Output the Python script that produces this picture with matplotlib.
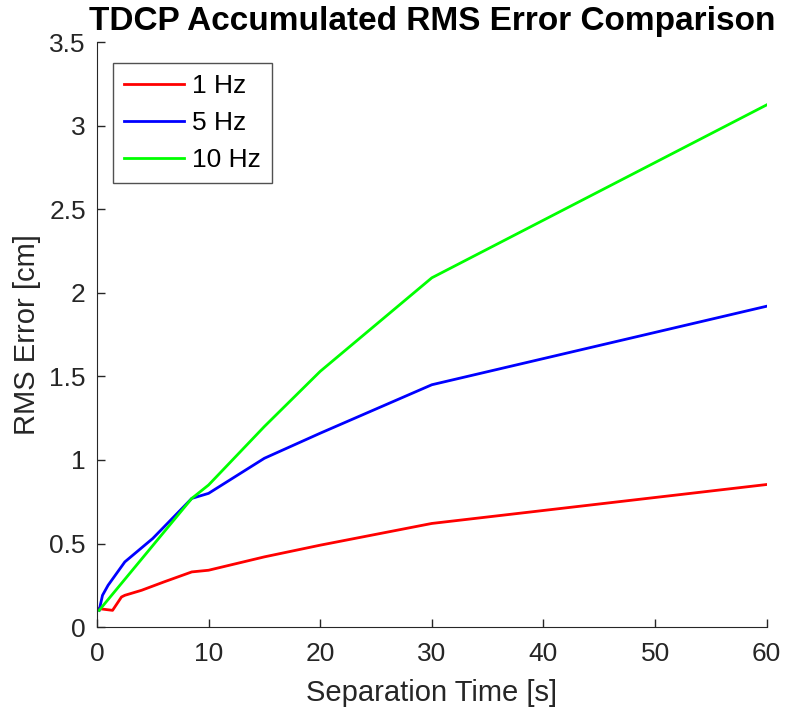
import matplotlib
matplotlib.use('Agg')
import matplotlib.pyplot as plt

plt.rcParams['font.family'] = ['Liberation Sans', 'DejaVu Sans']

# separation time [s] and accumulated RMS error [cm]
t_1hz = [0.2, 1.4, 2.2, 2.5, 4, 6, 8.5, 10, 15, 20, 30, 60]
rms_1hz = [0.11, 0.10, 0.18, 0.19, 0.22, 0.27, 0.33, 0.34, 0.42, 0.49, 0.62, 0.853]

t_5hz = [0.2, 0.5, 1, 2.5, 5, 8.5, 10, 15, 20, 30, 60]
rms_5hz = [0.10, 0.19, 0.25, 0.39, 0.53, 0.77, 0.80, 1.01, 1.16, 1.45, 1.92]

t_10hz = [0.2, 8.5, 10, 15, 20, 30, 60]
rms_10hz = [0.10, 0.77, 0.85, 1.20, 1.53, 2.09, 3.125]

fig = plt.figure(figsize=(7.88, 7.15), dpi=100)
ax = fig.add_axes([0.123, 0.123, 0.850, 0.818])

ax.plot(t_1hz, rms_1hz, color='#ff0000', lw=2, label='1 Hz')
ax.plot(t_5hz, rms_5hz, color='#0000ff', lw=2, label='5 Hz')
ax.plot(t_10hz, rms_10hz, color='#00ff00', lw=2, label='10 Hz')

ax.set_xlim(0, 60)
ax.set_ylim(0, 3.5)
ax.set_xticks([0, 10, 20, 30, 40, 50, 60])
ax.set_yticks([0, 0.5, 1, 1.5, 2, 2.5, 3, 3.5])
ax.set_yticklabels(['0', '0.5', '1', '1.5', '2', '2.5', '3', '3.5'])
ax.tick_params(direction='in', labelsize=19, colors='#262626', length=6, width=1)
ax.tick_params(axis='x', pad=11)
ax.tick_params(axis='y', pad=8)
for s in ['top', 'right']:
    ax.spines[s].set_visible(False)
for s in ['left', 'bottom']:
    ax.spines[s].set_color('#262626')

ax.set_xlabel('Separation Time [s]', fontsize=21, color='#262626', labelpad=9)
ax.set_ylabel('RMS Error [cm]', fontsize=21, color='#262626', labelpad=6)
ax.set_title('TDCP Accumulated RMS Error Comparison', fontsize=24, fontweight='bold', pad=9)

leg = ax.legend(loc='upper left', fontsize=19, handlelength=2.3, handletextpad=0.3,
                borderpad=0.4, borderaxespad=0, fancybox=False, edgecolor='#262626',
                bbox_to_anchor=(0.024, 0.964))
leg.get_frame().set_linewidth(1)

fig.savefig('out.png', dpi=100)
